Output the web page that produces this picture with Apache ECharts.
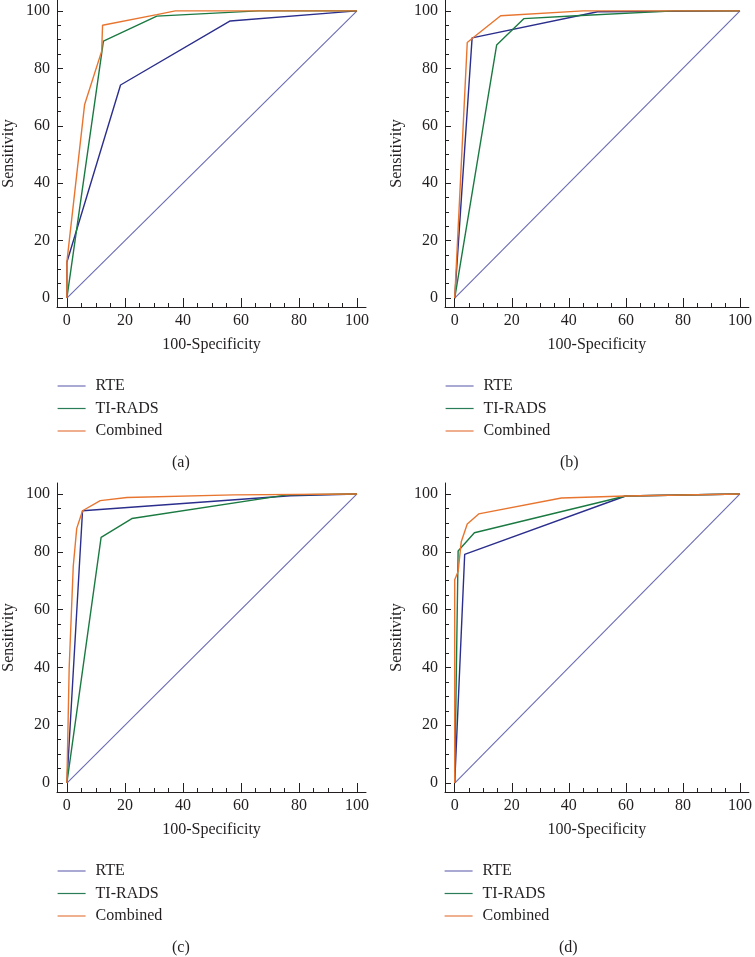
<!DOCTYPE html>
<html><head><meta charset="utf-8">
<script src="https://cdn.jsdelivr.net/npm/echarts@6/dist/echarts.min.js"></script>
<style>html,body{margin:0;padding:0;background:#fff}#c{width:755px;height:957px}</style>
</head><body><div id="c"></div>
<script>
// ---- data ----
const seriesNames = ['RTE', 'TI-RADS', 'Combined'];
const panelLabels = ['(a)', '(b)', '(c)', '(d)'];
const xTickLabels = [0, 20, 40, 60, 80, 100];
const yTickLabels = [0, 20, 40, 60, 80, 100];
const minorTicks = [0, 5, 10, 15, 20, 25, 30, 35, 40, 45, 50, 55, 60, 65, 70, 75, 80, 85, 90, 95, 100];
const xTitle = '100-Specificity';
const yTitle = 'Sensitivity';
const diagonal = [[0, 0], [100, 100]];

// panel (a)
const rteA = [[0, 0], [0, 12.5], [18.5, 74.2], [56.3, 96.5], [100, 100]];
const tiradsA = [[0, 0], [12.6, 89.5], [31, 98.2], [66, 100], [100, 100]];
const combinedA = [[0, 0], [0, 12.5], [6.1, 67.3], [12, 86], [12.3, 95], [31, 98.7], [37.4, 100], [100, 100]];
// panel (b)
const rteB = [[0, 0], [6.1, 90.6], [50.1, 99.7], [100, 100]];
const tiradsB = [[0, 0], [14.7, 88.1], [24.2, 97.3], [42.6, 98.3], [77, 100], [100, 100]];
const combinedB = [[0, 0], [0.6, 12], [4.4, 89], [6.1, 90.4], [16.1, 98.3], [45, 100], [100, 100]];
// panel (c)
const rteC = [[0, 0], [5.4, 94.2], [77, 99.4], [100, 100]];
const tiradsC = [[0, 0], [11.8, 85], [22.4, 91.5], [75.9, 99.7], [100, 100]];
const combinedC = [[0, 0], [0.8, 40], [2.2, 75], [3.4, 88.1], [5.4, 94.2], [11.5, 97.7], [20.7, 98.8], [57.5, 99.7], [100, 100]];
// panel (d)
const rteD = [[0, 0], [3.5, 79.1], [59.9, 99.3], [100, 100]];
const tiradsD = [[0, 0], [1.2, 80.3], [6.9, 86.6], [59.9, 99.3], [100, 100]];
const combinedD = [[0, 0], [0, 70.3], [1.2, 73.2], [2.3, 83.5], [4.4, 89.6], [8.4, 93.1], [37.4, 98.6], [59.9, 99.3], [100, 100]];

const panels = [
  [rteA, tiradsA, combinedA],
  [rteB, tiradsB, combinedB],
  [rteC, tiradsC, combinedC],
  [rteD, tiradsD, combinedD]
];

// ---- styling / layout ----
const FONT = 'Liberation Serif';
const TXT = '#231f20';
const colors = ['#2b2e8c', '#1b7a42', '#e8752f'];
const legendColors = ['#7070b8', '#2a7d58', '#e47b45'];
const diagColor = '#6a6ab4';
const gridPos = [
  { left: 57, top: -2 },
  { left: 445, top: -2 },
  { left: 57, top: 483 },
  { left: 445, top: 483 }
];
const legendPos = [
  { left: 57, top: 378 },
  { left: 445, top: 378 },
  { left: 57, top: 863 },
  { left: 444, top: 863 }
];
const titlePos = [
  { left: 172, top: 455 },
  { left: 560, top: 455 },
  { left: 172, top: 940 },
  { left: 559, top: 940 }
];
const XMIN = -3.4, XMAX = 103.1, YMIN = -3.1, YMAX = 103.8;

const grid = [], xAxis = [], yAxis = [], series = [], legend = [], title = [];
const textBase = { fontFamily: FONT, fontSize: 16, color: TXT };

panels.forEach((p, g) => {
  grid.push({ left: gridPos[g].left, top: gridPos[g].top, width: 309, height: 309 });
  xAxis.push({
    type: 'value', gridIndex: g, min: XMIN, max: XMAX, position: 'bottom',
    axisLine: { show: true, onZero: false, lineStyle: { color: TXT, width: 1 } },
    axisTick: { show: true, inside: true, length: 9, customValues: xTickLabels, lineStyle: { color: TXT } },
    axisLabel: { show: true, customValues: xTickLabels, margin: 6, ...textBase },
    splitLine: { show: false },
    name: xTitle, nameLocation: 'middle', nameGap: 30, nameTextStyle: { ...textBase }
  });
  xAxis.push({
    type: 'value', gridIndex: g, min: XMIN, max: XMAX, position: 'bottom',
    axisLine: { show: false, onZero: false },
    axisTick: { show: true, inside: true, length: 4, customValues: minorTicks, lineStyle: { color: TXT } },
    axisLabel: { show: false },
    splitLine: { show: false }
  });
  yAxis.push({
    type: 'value', gridIndex: g, min: YMIN, max: YMAX, position: 'left',
    axisLine: { show: true, onZero: false, lineStyle: { color: TXT, width: 1 } },
    axisTick: { show: true, inside: true, length: 6, customValues: yTickLabels, lineStyle: { color: TXT } },
    axisLabel: { show: true, customValues: yTickLabels, margin: 7, ...textBase },
    splitLine: { show: false },
    name: yTitle, nameLocation: 'middle', nameGap: 40, nameRotate: 90, nameTextStyle: { ...textBase }
  });
  yAxis.push({
    type: 'value', gridIndex: g, min: YMIN, max: YMAX, position: 'left',
    axisLine: { show: false, onZero: false },
    axisTick: { show: true, inside: true, length: 4, customValues: minorTicks, lineStyle: { color: TXT } },
    axisLabel: { show: false },
    splitLine: { show: false }
  });
  series.push({
    type: 'line', name: 'Reference', xAxisIndex: 2 * g, yAxisIndex: 2 * g,
    data: diagonal, symbol: 'none', lineStyle: { color: diagColor, width: 1.1 }, itemStyle: { color: diagColor }
  });
  p.forEach((d, i) => {
    series.push({
      type: 'line', name: seriesNames[i], xAxisIndex: 2 * g, yAxisIndex: 2 * g,
      data: d, symbol: 'none', lineStyle: { color: colors[i], width: 1.4 }, itemStyle: { color: colors[i] }
    });
  });
  legend.push({
    orient: 'vertical', left: legendPos[g].left, top: legendPos[g].top, padding: 0,
    itemWidth: 28, itemHeight: 16, itemGap: 6.5, selectedMode: false,
    data: seriesNames.map((n, i) => ({
      name: n,
      lineStyle: { color: legendColors[i], width: 1.2 },
      itemStyle: { color: 'rgba(0,0,0,0)', opacity: 0, borderWidth: 0 }
    })),
    textStyle: { ...textBase, padding: [0, 0, 0, 5] }
  });
  title.push({
    text: panelLabels[g], left: titlePos[g].left, top: titlePos[g].top, padding: 0,
    textStyle: { ...textBase, fontWeight: 'normal' }
  });
});

const chart = echarts.init(document.getElementById('c'), null, { renderer: 'canvas' });
chart.setOption({ animation: false, backgroundColor: '#fff', title, grid, xAxis, yAxis, legend, series });
</script>
</body></html>
